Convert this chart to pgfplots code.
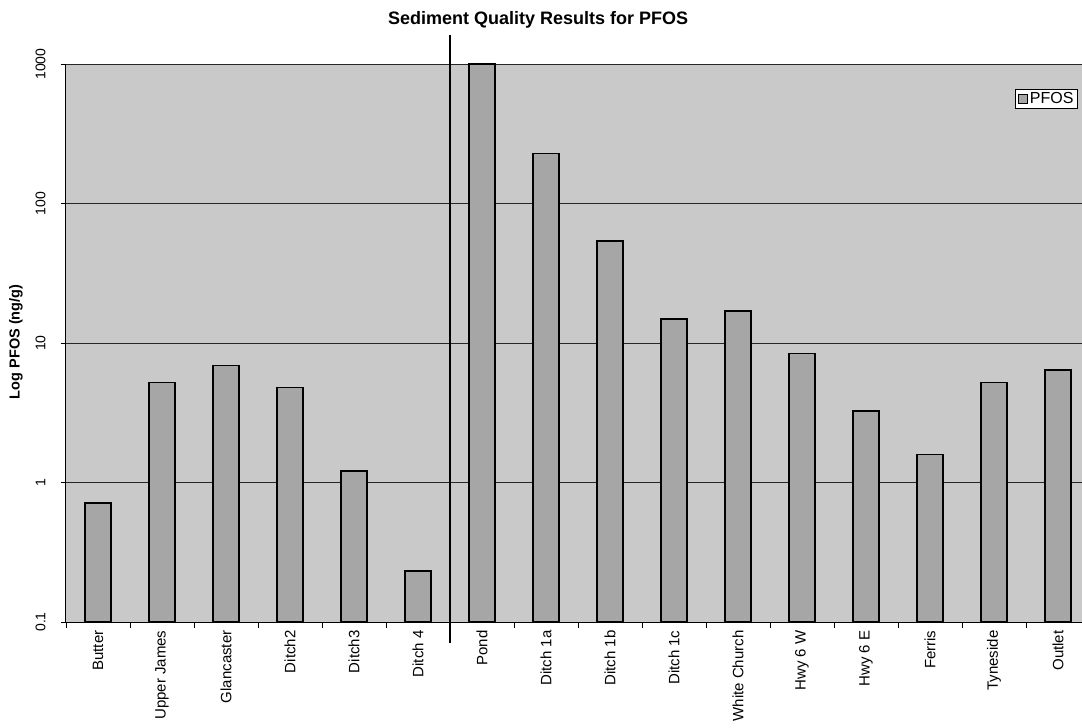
\documentclass[border=0pt]{standalone}
\usepackage{pgfplots}
\pgfplotsset{compat=1.18}
\usepackage{fontspec}
\setmainfont{Liberation Sans}
\begin{document}
\begin{tikzpicture}
\clip (-66pt,-106pt) rectangle (1016pt,622pt);
\begin{axis}[
  scale only axis, width=1016pt, height=558pt,
  clip=false,
  ymode=log, ymin=0.1, ymax=1000, log origin=infty,
  xmin=-0.5, xmax=15.375,
  ybar, bar width=0.41,
  axis lines*=left,
  axis line style={line width=1pt},
  axis background/.style={fill=black!21},
  ytick={0.1,1,10,100,1000}, yticklabels={0.1,1,10,100,1000},
  minor y tick style={draw=none},
  ymajorgrids, major grid style={black!85, line width=0.8pt},
  xtick={0,...,15},
  xticklabels={Butter,Upper James,Glancaster,Ditch2,Ditch3,Ditch 4,Pond,Ditch 1a,Ditch 1b,Ditch 1c,White Church,Hwy 6 W,Hwy 6 E,Ferris,Tyneside,Outlet},
  minor xtick={-0.5,0.5,...,15.5},
  major x tick style={draw=none},
  minor x tick style={black, line width=0.8pt},
  major y tick style={black, line width=0.8pt},
  tick align=outside, major tick length=5pt, minor tick length=6pt,
  xticklabel style={rotate=90, anchor=east, font=\fontsize{15}{17}\selectfont},
  yticklabel style={rotate=90, anchor=south, font=\fontsize{14}{16}\selectfont},
  yticklabel shift=12pt,
  ylabel={\textbf{Log PFOS (ng/g)}},
  ylabel style={at={(rel axis cs:-0.0492,0.502)}, anchor=center, font=\fontsize{14.5}{16}\selectfont},
  title={\textbf{Sediment Quality Results for PFOS}},
  title style={at={(rel axis cs:0.4646,1.068)}, anchor=center, font=\fontsize{18}{20}\selectfont},
  legend style={at={(rel axis cs:0.996,0.955)}, anchor=north east, draw=black, fill=white, line width=0.8pt, font=\fontsize{16}{18}\selectfont, inner xsep=2pt, inner ysep=1pt},
]
\addplot[fill=black!35, draw=black, line width=1.6pt,
  legend image code/.code={\draw[fill=black!35, draw=black, line width=1.2pt] (0pt,-4.5pt) rectangle (9pt,4.5pt);}]
  coordinates {
  (0,0.71) (1,5.2) (2,6.9) (3,4.8) (4,1.21) (5,0.231)
  (6,1000) (7,228) (8,54) (9,14.9) (10,16.9) (11,8.4)
  (12,3.25) (13,1.59) (14,5.22) (15,6.4)
  };
\addlegendentry{PFOS}
\draw[line width=1.5pt] ([yshift=-21pt]axis cs:5.5,0.1) -- ([yshift=29pt]axis cs:5.5,1000);
\end{axis}
\end{tikzpicture}
\end{document}
